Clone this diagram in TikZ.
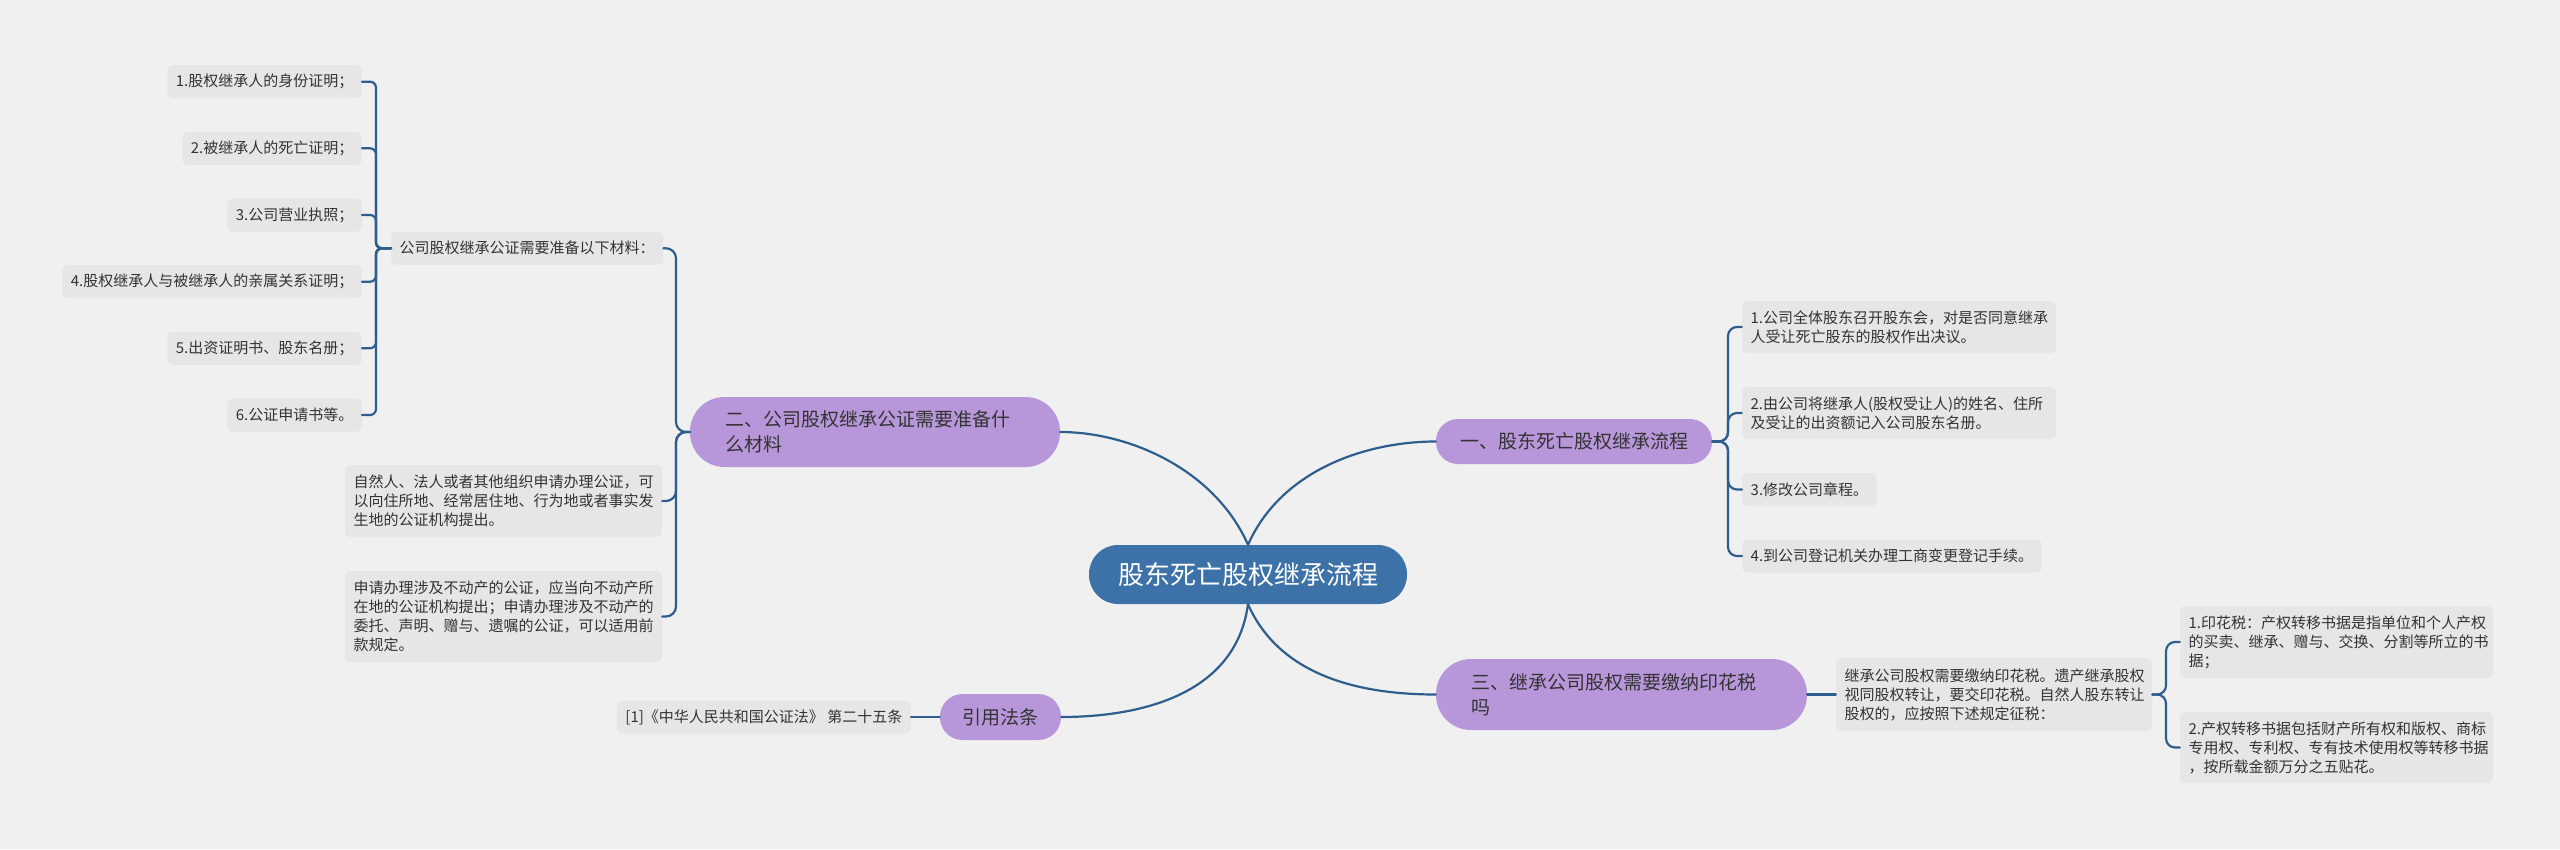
\documentclass[tikz,border=0pt]{standalone}
\usepackage{fontspec}
\setmainfont{Noto Sans CJK SC}
\definecolor{bgc}{HTML}{F0F0F0}
\definecolor{leafc}{HTML}{E6E6E6}
\definecolor{purp}{HTML}{B797D9}
\definecolor{rootc}{HTML}{3C72A7}
\definecolor{linec}{HTML}{2E5E8E}
\definecolor{txt}{HTML}{333333}
\tikzset{
  leaf/.style={fill=leafc, rounded corners=5pt, inner xsep=8.5pt, inner ysep=0pt,
    minimum height=33pt, text=txt, font=\fontsize{15}{19}\selectfont, align=left},
  mainn/.style={fill=purp, inner sep=0pt, text=txt, font=\fontsize{19}{25}\selectfont, align=left},
  conn/.style={draw=linec, line width=2.2pt, line cap=round},
}
\begin{document}
\begin{tikzpicture}[x=1pt,y=-1pt]
\fill[bgc] (0,0) rectangle (2560,849);
\useasboundingbox (0,0) rectangle (2560,849);

% root
\node[fill=rootc, rounded corners=29pt, minimum width=318pt, minimum height=59pt, inner sep=0pt,
  text=white, font=\fontsize{26}{30}\selectfont] (root) at (1248,574.5) {股东死亡股权继承流程};

% main nodes
\node[mainn, rounded corners=22pt, minimum width=276pt, minimum height=45pt] (n1) at (1574,441.5) {一、股东死亡股权继承流程};
\node[mainn, rounded corners=34.5pt, minimum width=370pt, minimum height=70pt, text width=300pt] (n2) at (875,432) {二、公司股权继承公证需要准备什\\么材料};
\node[mainn, rounded corners=35pt, minimum width=371pt, minimum height=71pt, text width=300pt] (n3) at (1621.5,694.5) {三、继承公司股权需要缴纳印花税\\吗};
\node[mainn, rounded corners=22.5pt, minimum width=121pt, minimum height=46pt] (n4) at (1000.5,717) {引用法条};

% left leaves
\node[leaf, anchor=east] (l1) at (362,81.7) {1.股权继承人的身份证明；};
\node[leaf, anchor=east] (l2) at (362,148.3) {2.被继承人的死亡证明；};
\node[leaf, anchor=east] (l3) at (362,215) {3.公司营业执照；};
\node[leaf, anchor=east] (l4) at (362,281.7) {4.股权继承人与被继承人的亲属关系证明；};
\node[leaf, anchor=east] (l5) at (362,348.3) {5.出资证明书、股东名册；};
\node[leaf, anchor=east] (l6) at (362,415) {6.公证申请书等。};
\node[leaf, anchor=west] (m) at (391,248.3) {公司股权继承公证需要准备以下材料：};
\node[leaf, text width=300pt, minimum height=72pt] (a1) at (503.5,501) {自然人、法人或者其他组织申请办理公证，可\\以向住所地、经常居住地、行为地或者事实发\\生地的公证机构提出。};
\node[leaf, text width=300pt, minimum height=91pt] (a2) at (503.5,616.5) {申请办理涉及不动产的公证，应当向不动产所\\在地的公证机构提出；申请办理涉及不动产的\\委托、声明、赠与、遗嘱的公证，可以适用前\\款规定。};
\node[leaf, anchor=east] (cite) at (911,717) {[1]《中华人民共和国公证法》 第二十五条};

% right leaves
\node[leaf, text width=297pt, minimum height=52pt] (r1) at (1899,327) {1.公司全体股东召开股东会，对是否同意继承\\人受让死亡股东的股权作出决议。};
\node[leaf, text width=297pt, minimum height=52pt] (r2) at (1899,413) {2.由公司将继承人(股权受让人)的姓名、住所\\及受让的出资额记入公司股东名册。};
\node[leaf, anchor=west] (r3) at (1742,489.5) {3.修改公司章程。};
\node[leaf, anchor=west] (r4) at (1742,556) {4.到公司登记机关办理工商变更登记手续。};
\node[leaf, text width=299pt, minimum height=73pt] (t0) at (1994,694.5) {继承公司股权需要缴纳印花税。遗产继承股权\\视同股权转让，要交印花税。自然人股东转让\\股权的，应按照下述规定征税：};
\node[leaf, text width=296pt, minimum height=72pt] (t1) at (2336.5,642) {1.印花税：产权转移书据是指单位和个人产权\\的买卖、继承、赠与、交换、分割等所立的书\\据；};
\node[leaf, text width=296pt, minimum height=71pt] (t2) at (2336.5,747.5) {2.产权转移书据包括财产所有权和版权、商标\\专用权、专利权、专有技术使用权等转移书据\\，按所载金额万分之五贴花。};

% junctions
\coordinate (jl) at (376,248.3);
\coordinate (j2) at (676,432);
\coordinate (j1) at (1728,441.5);
\coordinate (j3) at (2166,694.5);

% root connectors
\draw[conn] (root.north) .. controls (1215,470) and (1130,432) .. (n2.east);
\draw[conn] (root.north) .. controls (1281,470) and (1366,441.5) .. (n1.west);
\draw[conn] (root.south) .. controls (1281,679) and (1366,694.5) .. (n3.west);
\draw[conn] (root.south) .. controls (1235,700) and (1130,717) .. (n4.east);

% left bracket
\foreach \t in {l1,l2,l3,l4,l5,l6}{
  \draw[conn, rounded corners=6pt] (m.west) -- (jl) -- (jl |- \t.east) -- (\t.east);
}
% group two
\foreach \t in {m,a1,a2}{
  \draw[conn, rounded corners=10pt] (n2.west) -- (j2) -- (j2 |- \t.east) -- (\t.east);
}
% group one
\foreach \t in {r1,r2,r3,r4}{
  \draw[conn, rounded corners=9pt] (n1.east) -- (j1) -- (j1 |- \t.west) -- (\t.west);
}
% group three
\draw[conn] (n3.east) -- (t0.west);
\foreach \t in {t1,t2}{
  \draw[conn, rounded corners=9pt] (t0.east) -- (j3) -- (j3 |- \t.west) -- (\t.west);
}
% citation
\draw[conn] (n4.west) -- (cite.east);
\end{tikzpicture}
\end{document}
